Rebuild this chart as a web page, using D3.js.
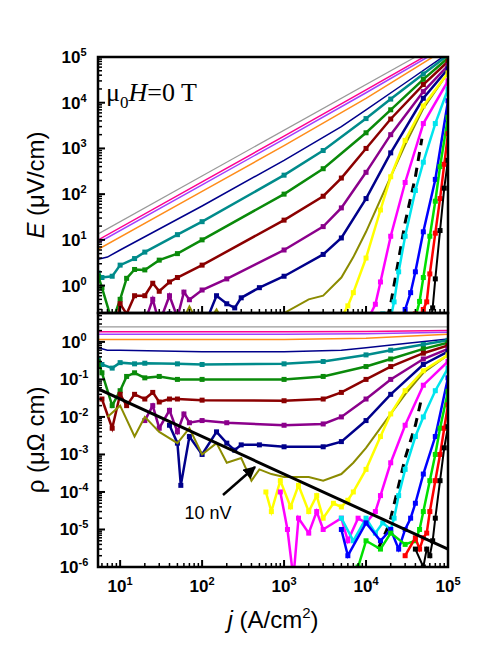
<!DOCTYPE html>
<html><head><meta charset="utf-8">
<script src="https://cdn.jsdelivr.net/npm/d3@7"></script>
<style>body{margin:0;background:#fff}</style>
</head><body>
<div id="chart"></div>
<script>
// each series: current density j (A/cm2) and resistivity rho (uOhm cm); E = rho*j (uV/cm)
const series = [
  {c:"#999999", m:false, w:1.2, j:[5.4,1e5], rho:[2.5,2.5]},
  {c:"#ff0090", m:false, w:1.5, j:[5.4,100,1e3,1e4,1e5], rho:[1.85,1.85,1.85,1.9,2.0]},
  {c:"#a040ff", m:false, w:1.5, j:[5.4,100,1e3,1e4,1e5], rho:[1.6,1.6,1.6,1.65,1.8]},
  {c:"#ff8c1a", m:false, w:1.5, j:[5.4,100,1e3,1e4,1e5], rho:[1.15,1.15,1.15,1.25,1.6]},
  {c:"#00008b", m:false, w:1.5, j:[5.4,7,10,100,1e3,5e3,1e4,3e4,1e5], rho:[0.7,0.6,0.6,0.55,0.55,0.6,0.7,0.9,1.2]},
  {c:"#008b8b", m:true, w:2.5, j:[5.4,6,8,10,15,20,50,100,1e3,3e3,1e4,2e4,5e4,1e5],
    rho:[0.35,0.25,0.2,0.28,0.26,0.27,0.26,0.25,0.26,0.3,0.45,0.6,0.85,1.1]},
  {c:"#0a8a0a", m:true, w:2.5, j:[5.4,6,8,10,12,15,20,30,50,100,1e3,3e3,1e4,2e4,5e4,1e5],
    rho:[0.3,0.15,0.02,0.05,0.12,0.15,0.11,0.12,0.1,0.1,0.1,0.12,0.22,0.35,0.65,0.95]},
  {c:"#8b0000", m:true, w:2.5, j:[6,8,10,12,15,20,25,30,40,50,100,1e3,3e3,5e3,1e4,2e4,5e4,1e5],
    rho:[0.03,0.005,0.04,0.02,0.04,0.03,0.045,0.025,0.03,0.03,0.028,0.027,0.03,0.045,0.1,0.22,0.5,0.8]},
  {c:"#8b008b", m:true, w:2.5, j:[20,25,30,40,50,60,70,100,200,1e3,3e3,5e3,1e4,2e4,5e4,1e5],
    rho:[0.008,0.02,0.005,0.015,0.004,0.012,0.007,0.008,0.007,0.006,0.0065,0.01,0.03,0.1,0.35,0.65]},
  {c:"#00008b", m:true, w:2.5, j:[40,50,55,70,100,150,200,250,300,500,1e3,3e3,5e3,1e4,2e4,5e4,1e5],
    rho:[0.006,0.002,1.5e-4,0.003,0.001,0.004,0.002,0.0013,0.0018,0.0018,0.0016,0.0016,0.0022,0.008,0.04,0.25,0.55]},
  {c:"#8b8b00", m:false, w:2, j:[7,10,15,20,30,50,70,100,150,200,300,400,500,700,1e3,2e3,3e3,5e3,7e3,1e4,2e4,3e4,5e4,1e5],
    rho:[0.01,0.02,0.003,0.01,0.004,0.002,0.005,0.001,0.002,0.0006,0.0008,0.0002,0.0004,0.0003,0.00025,0.00025,0.0002,0.0003,0.0006,0.0015,0.012,0.04,0.15,0.45]},
  {c:"#ffff00", m:true, w:2.5, j:[600,700,900,1200,1500,2e3,2.5e3,3e3,4e3,5e3,6e3,7e3,1e4,1.5e4,2e4,3e4,5e4,1e5],
    rho:[1e-4,3e-5,2e-4,4e-5,1.5e-4,3e-5,8e-5,2e-5,5e-5,4e-5,6e-5,1e-4,4e-4,0.003,0.012,0.05,0.17,0.45]},
  {c:"#ff00ff", m:true, w:2.5, j:[900,1100,1300,1500,2e3,2.5e3,3e3,5e3,6e3,8e3,1e4,1.3e4,1.5e4,2e4,3e4,5e4,1e5],
    rho:[1e-4,1e-5,5e-7,2e-5,8e-6,3e-5,1e-5,2e-5,5e-6,2e-5,1.5e-5,3e-5,8e-5,6e-4,0.006,0.07,0.3]},
  {c:"#000000", m:false, w:3, dash:"9,7", j:[1.4e4,1.8e4,2e4,2.5e4,3e4,4e4,4.8e4],
    rho:[3e-6,1e-5,2e-5,1.5e-4,8e-4,0.006,0.034]},
  {c:"#00e5ee", m:true, w:2.5, j:[5e3,7e3,1e4,1.3e4,1.6e4,2e4,2.2e4,2.5e4,3e4,4e4,5e4,7e4,1e5],
    rho:[2e-5,5e-6,2e-5,8e-6,1.5e-5,1e-5,2e-5,8e-5,4e-4,0.003,0.01,0.05,0.2]},
  {c:"#0000ff", m:true, w:2.5, j:[5e3,6e3,1e4,1.5e4,2e4,2.5e4,3e4,3.5e4,4e4,5e4,7e4,1e5],
    rho:[1e-5,2e-6,1.5e-5,5e-6,1e-5,3e-6,1e-5,2e-5,5e-5,3e-4,0.003,0.11]},
  {c:"#00e000", m:true, w:2.5, j:[8e3,1e4,1.5e4,2e4,3e4,4e4,4.5e4,5e4,6e4,7e4,8e4,1e5],
    rho:[1e-6,5e-6,3e-6,8e-6,4e-6,5e-6,1e-5,3e-5,2e-4,0.001,0.005,0.048]},
  {c:"#ff0000", m:true, w:2.5, j:[3e4,4e4,4.5e4,5e4,5.5e4,6e4,7e4,8e4,9e4,1e5],
    rho:[2e-6,6e-6,3e-6,6e-6,8e-6,3e-5,2e-4,0.001,0.005,0.021]},
  {c:"#000000", m:true, w:2, j:[4e4,5e4,5.5e4,6e4,6.5e4,7e4,8e4,9e4,1e5],
    rho:[3e-6,1e-6,3e-6,2e-6,5e-6,2e-5,2e-4,0.0015,0.0055]}
];
const refJ = [5.4, 1e5];
const refRho = [0.3/5.4, 0.3/1e5];
const xTicks = [1e1,1e2,1e3,1e4,1e5];
const topTicks = [1e0,1e1,1e2,1e3,1e4,1e5];
const botTicks = [1e-6,1e-5,1e-4,1e-3,1e-2,1e-1,1e0];

const W = 504, H = 658;
const L = 98, R = 448, T1 = 57, MID = 313, B2 = 567;
const svg = d3.select("#chart").append("svg").attr("width", W).attr("height", H)
  .style("font-family", "Liberation Sans, Arial, sans-serif");

const x = d3.scaleLog().domain([10**0.73, 1e5]).range([L, R]);
const yTop = d3.scaleLog().domain([10**-0.6, 1e5]).range([MID, T1]);
const yBot = d3.scaleLog().domain([1e-6, 10**0.77]).range([B2, MID]);

function clip(id, y0, y1) {
  svg.append("clipPath").attr("id", id).append("rect")
    .attr("x", L).attr("y", y0).attr("width", R - L).attr("height", y1 - y0);
}
clip("c1", T1, MID); clip("c2", MID, B2);

function drawPanel(clipId, y, val) {
  const g = svg.append("g").attr("clip-path", `url(#${clipId})`);
  series.forEach(s => {
    const pts = s.j.map((jj, i) => [jj, val(jj, s.rho[i])]);
    g.append("path").datum(pts)
      .attr("d", d3.line().x(d => x(d[0])).y(d => y(d[1])))
      .attr("fill", "none").attr("stroke", s.c).attr("stroke-width", s.w)
      .attr("stroke-dasharray", s.dash || null);
    if (s.m) {
      g.selectAll(null).data(pts).enter().append("rect")
        .attr("x", d => x(d[0]) - 2.5).attr("y", d => y(d[1]) - 2.5)
        .attr("width", 5).attr("height", 5).attr("fill", s.c);
    }
  });
  return g;
}
drawPanel("c1", yTop, (jj, r) => jj * r);
const g2 = drawPanel("c2", yBot, (jj, r) => r);
g2.append("line")
  .attr("x1", x(refJ[0])).attr("y1", yBot(refRho[0]))
  .attr("x2", x(refJ[1])).attr("y2", yBot(refRho[1]))
  .attr("stroke", "#000").attr("stroke-width", 3);

// ticks
function minors(lo, hi) {
  const out = [];
  for (let e = Math.floor(Math.log10(lo)); e <= Math.ceil(Math.log10(hi)); e++)
    for (let k = 2; k <= 9; k++) { const v = k * 10 ** e; if (v >= lo && v <= hi) out.push(v); }
  return out;
}
function xTicksAt(yPos, labels) {
  xTicks.forEach(t => svg.append("line").attr("x1", x(t)).attr("x2", x(t))
    .attr("y1", yPos).attr("y2", yPos - 7).attr("stroke", "#000").attr("stroke-width", 2));
  minors(x.domain()[0], 1e5).forEach(t => svg.append("line").attr("x1", x(t)).attr("x2", x(t))
    .attr("y1", yPos).attr("y2", yPos - 4).attr("stroke", "#000").attr("stroke-width", 1.5));
  if (labels) xTicks.forEach(t => {
    const tx = svg.append("text").attr("x", x(t)).attr("y", yPos + 25)
      .attr("text-anchor", "middle").attr("font-size", 17).attr("font-weight", "bold");
    tx.append("tspan").text("10");
    tx.append("tspan").attr("dy", -7).attr("font-size", 11).text(Math.log10(t));
  });
}
function yTicksAt(y, ticks) {
  const [lo, hi] = y.domain();
  ticks.forEach(t => {
    svg.append("line").attr("x1", L).attr("x2", L + 7).attr("y1", y(t)).attr("y2", y(t))
      .attr("stroke", "#000").attr("stroke-width", 2);
    const tx = svg.append("text").attr("x", L - 24).attr("y", y(t) + 6)
      .attr("text-anchor", "middle").attr("font-size", 17).attr("font-weight", "bold");
    tx.append("tspan").text("10");
    tx.append("tspan").attr("dy", -7).attr("font-size", 11).text(Math.round(Math.log10(t)));
  });
  minors(lo, hi).forEach(t => svg.append("line").attr("x1", L).attr("x2", L + 4)
    .attr("y1", y(t)).attr("y2", y(t)).attr("stroke", "#000").attr("stroke-width", 1.5));
}
xTicksAt(MID, false);
xTicksAt(B2, true);
yTicksAt(yTop, topTicks);
yTicksAt(yBot, botTicks);

// frames
[[T1, MID], [MID, B2]].forEach(([a, b]) => svg.append("rect")
  .attr("x", L).attr("y", a).attr("width", R - L).attr("height", b - a)
  .attr("fill", "none").attr("stroke", "#000").attr("stroke-width", 2.5));

// labels
const f = svg.append("text").attr("x", 106).attr("y", 101)
  .attr("font-family", "Liberation Serif, Times New Roman, serif").attr("font-size", 26);
f.append("tspan").text("\u03bc");
f.append("tspan").attr("dy", 7).attr("font-size", 17).text("0");
f.append("tspan").attr("dy", -7).attr("font-style", "italic").text("H");
f.append("tspan").text("=0 T");

const ye = svg.append("text").attr("transform", `translate(44,${(T1 + MID) / 2}) rotate(-90)`)
  .attr("text-anchor", "middle").attr("font-size", 24);
ye.append("tspan").attr("font-style", "italic").text("E");
ye.append("tspan").text(" (\u03bcV/cm)");

svg.append("text").attr("transform", `translate(44,${(MID + B2) / 2}) rotate(-90)`)
  .attr("text-anchor", "middle").attr("font-size", 24).text("\u03c1 (\u03bc\u03a9 cm)");

const xt = svg.append("text").attr("x", (L + R) / 2).attr("y", 628)
  .attr("text-anchor", "middle").attr("font-size", 24);
xt.append("tspan").attr("font-style", "italic").text("j");
xt.append("tspan").text(" (A/cm");
xt.append("tspan").attr("dy", -10).attr("font-size", 15).text("2");
xt.append("tspan").attr("dy", 10).text(")");

svg.append("text").attr("x", 208).attr("y", 519).attr("text-anchor", "middle")
  .attr("font-size", 18).text("10 nV");
svg.append("defs").append("marker").attr("id", "ah").attr("viewBox", "0 0 10 10")
  .attr("refX", 9).attr("refY", 5).attr("markerWidth", 5).attr("markerHeight", 5)
  .attr("orient", "auto").append("path").attr("d", "M0,0L10,5L0,10z");
svg.append("line").attr("x1", 223).attr("y1", 495).attr("x2", 255).attr("y2", 467)
  .attr("stroke", "#000").attr("stroke-width", 2.5).attr("marker-end", "url(#ah)");
</script>
</body></html>
